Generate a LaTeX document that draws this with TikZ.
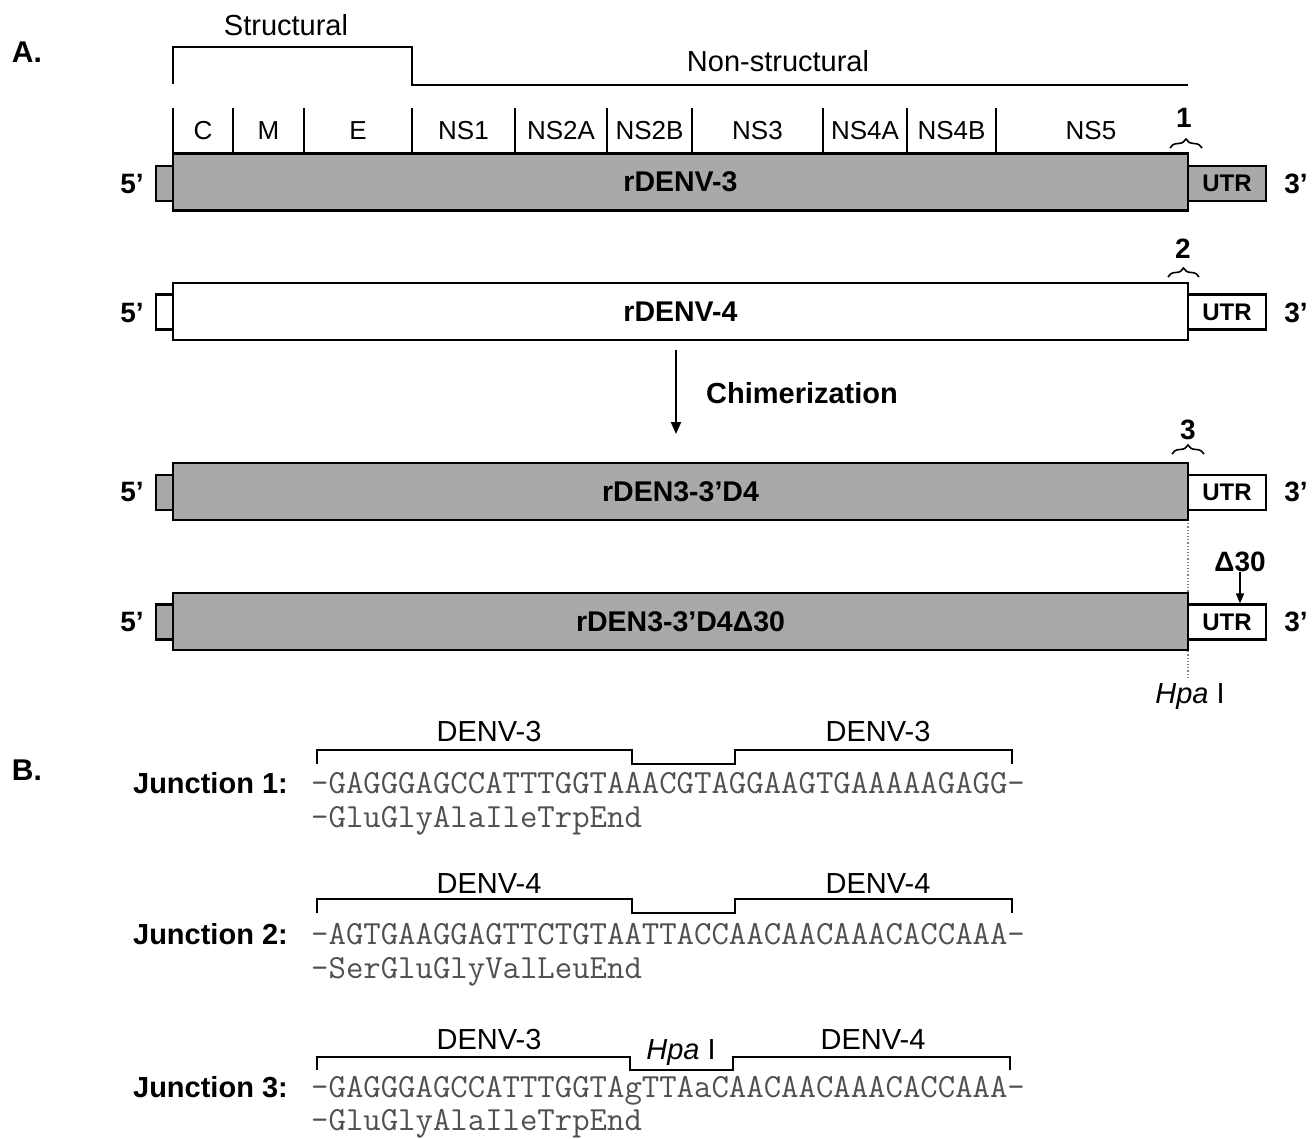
\documentclass[tikz,border=0pt]{standalone}
\usepackage{fontspec}
\setmainfont{Liberation Sans}
\usetikzlibrary{arrows.meta,decorations.pathreplacing}

\definecolor{genome}{RGB}{169,169,169}
\definecolor{seqink}{RGB}{80,80,80}

\tikzset{
  plain/.style={font=\fontsize{29}{34}\selectfont, inner sep=0pt},
  seglbl/.style={font=\fontsize{26}{30}\selectfont, inner sep=0pt},
  boldlbl/.style={font=\fontsize{29}{34}\selectfont\bfseries, inner sep=0pt},
  endlbl/.style={font=\fontsize{28}{32}\selectfont\bfseries, inner sep=0pt},
  panel/.style={font=\fontsize{30}{34}\selectfont\bfseries, inner sep=0pt},
  orf/.style={draw, line width=2.2pt, minimum width=1015pt, minimum height=57pt,
              inner sep=0pt, font=\fontsize{28.5}{32}\selectfont\bfseries},
  cap5/.style={draw, line width=2.2pt, minimum width=17pt, minimum height=35pt, inner sep=0pt},
  utr/.style={draw, line width=2.2pt, minimum width=78pt, minimum height=35pt,
              inner sep=0pt, font=\fontsize{24}{28}\selectfont\bfseries},
  sep/.style={line width=1.6pt},
  region/.style={line width=2.2pt},
  jbracket/.style={line width=2.4pt},
  junbrace/.style={line width=1.6pt, decorate, decoration={brace, amplitude=9pt}},
  seq/.style={font=\ttfamily\fontsize{33.8}{38}\selectfont, text=seqink, inner sep=0pt},
  arr/.style={line width=2pt, -{Triangle[length=12pt,width=10pt]}},
  smallarr/.style={line width=1.8pt, -{Triangle[length=10pt,width=8pt]}},
}

\begin{document}
\begin{tikzpicture}[x=1pt,y=-1pt]
\useasboundingbox (0,0) rectangle (1312,1138);

% panel letters
\node[panel] (pA) at (27,52) {A.};
\node[panel] (pB) at (27,770) {B.};

% structural / non-structural regions
\draw[region] (173,84) -- (173,47) -- (412,47) -- (412,85) -- (1188,85);
\node[plain] (structural) at (286,25) {Structural};
\node[plain] (nonstructural) at (778,61) {Non-structural};

% gene boundaries above the rDENV-3 genome
\foreach \x in {173,233,304,412,515,607,692,823,907,996}
  \draw[sep] (\x,108) -- (\x,153);
\foreach \x/\g in {203/C, 268.5/M, 358/E, 463.5/NS1, 561/NS2A, 649.5/NS2B,
                   757.5/NS3, 865/NS4A, 951.5/NS4B, 1091/NS5}
  \node[seglbl] (g-\g) at (\x,131) {\g};

% Hpa I site marker
\draw[gray, line width=1.2pt, dotted] (1188,520) -- (1188,678);
\node[plain, anchor=north] (hpa) at (1190,683) {\textit{Hpa} I};

% rDENV-3
\node[cap5, fill=genome] (f1) at (164.5,183.5) {};
\node[utr, fill=genome] (u1) at (1227,183.5) {UTR};
\node[orf, fill=genome] (b1) at (680.5,182) {rDENV-3};
\node[endlbl] (l1) at (132,184) {5’};
\node[endlbl] (r1) at (1296,184) {3’};
\draw[junbrace] (1170,148) -- (1202,148);
\node[endlbl] (j1) at (1184,118) {1};

% rDENV-4
\node[cap5, fill=white] (f2) at (164.5,312) {};
\node[utr, fill=white] (u2) at (1227,312) {UTR};
\node[orf, fill=white] (b2) at (680.5,311.5) {rDENV-4};
\node[endlbl] (l2) at (132,313) {5’};
\node[endlbl] (r2) at (1296,313) {3’};
\draw[junbrace] (1168,277) -- (1199,277);
\node[endlbl] (j2) at (1183,249) {2};

% chimerization step
\coordinate (chimA) at (676,350);
\coordinate (chimB) at (676,434);
\draw[arr] (chimA) -- (chimB);
\node[boldlbl] (chim) at (802,393) {Chimerization};

% rDEN3-3'D4
\node[cap5, fill=genome] (f3) at (164.5,492.5) {};
\node[utr, fill=white] (u3) at (1227,492.5) {UTR};
\node[orf, fill=genome] (b3) at (680.5,491.5) {rDEN3-3’D4};
\node[endlbl] (l3) at (132,492) {5’};
\node[endlbl] (r3) at (1296,492) {3’};
\draw[junbrace] (1172,454) -- (1204,454);
\node[endlbl] (j3) at (1188,430) {3};

% rDEN3-3'D4 delta30
\node[cap5, fill=genome] (f4) at (164.5,622) {};
\node[utr, fill=white] (u4) at (1227,622) {UTR};
\node[orf, fill=genome] (b4) at (680.5,621.5) {rDEN3-3’D4Δ30};
\node[endlbl] (l4) at (132,622) {5’};
\node[endlbl] (r4) at (1296,622) {3’};
\node[endlbl] (d30) at (1240,562) {Δ30};
\draw[smallarr] (d30.south) -- (d30.south |- u4.north);

% junction 1
\draw[jbracket] (317,764) -- (317,750) -- (632,750) -- (632,764) -- (735,764)
                -- (735,750) -- (1012,750) -- (1012,764);
\node[plain] (k1a) at (489,732) {DENV-3};
\node[plain] (k1b) at (878,732) {DENV-3};
\node[boldlbl, anchor=base east] (jn1) at (288,793) {Junction 1:};
\node[seq, anchor=base west] (s1) at (311,793) {-GAGGGAGCCATTTGGTAAACGTAGGAAGTGAAAAAGAGG-};
\node[seq, anchor=base west] (a1) at (311,827) {-GluGlyAlaIleTrpEnd};

% junction 2
\draw[jbracket] (317,913) -- (317,899) -- (632,899) -- (632,913) -- (735,913)
                -- (735,899) -- (1012,899) -- (1012,913);
\node[plain] (k2a) at (489,884) {DENV-4};
\node[plain] (k2b) at (878,884) {DENV-4};
\node[boldlbl, anchor=base east] (jn2) at (288,944) {Junction 2:};
\node[seq, anchor=base west] (s2) at (311,944) {-AGTGAAGGAGTTCTGTAATTACCAACAACAAACACCAAA-};
\node[seq, anchor=base west] (a2) at (311,978) {-SerGluGlyValLeuEnd};

% junction 3
\draw[jbracket] (317,1070) -- (317,1057) -- (630,1057) -- (630,1070) -- (733,1070)
                -- (733,1057) -- (1010,1057) -- (1010,1070);
\node[plain] (k3a) at (489,1040) {DENV-3};
\node[plain] (k3h) at (681,1053) {\textit{Hpa} I};
\node[plain] (k3b) at (873,1040) {DENV-4};
\node[boldlbl, anchor=base east] (jn3) at (288,1097) {Junction 3:};
\node[seq, anchor=base west] (s3) at (311,1097) {-GAGGGAGCCATTTGGTAgTTAaCAACAACAAACACCAAA-};
\node[seq, anchor=base west] (a3) at (311,1130) {-GluGlyAlaIleTrpEnd};
\end{tikzpicture}
\end{document}
